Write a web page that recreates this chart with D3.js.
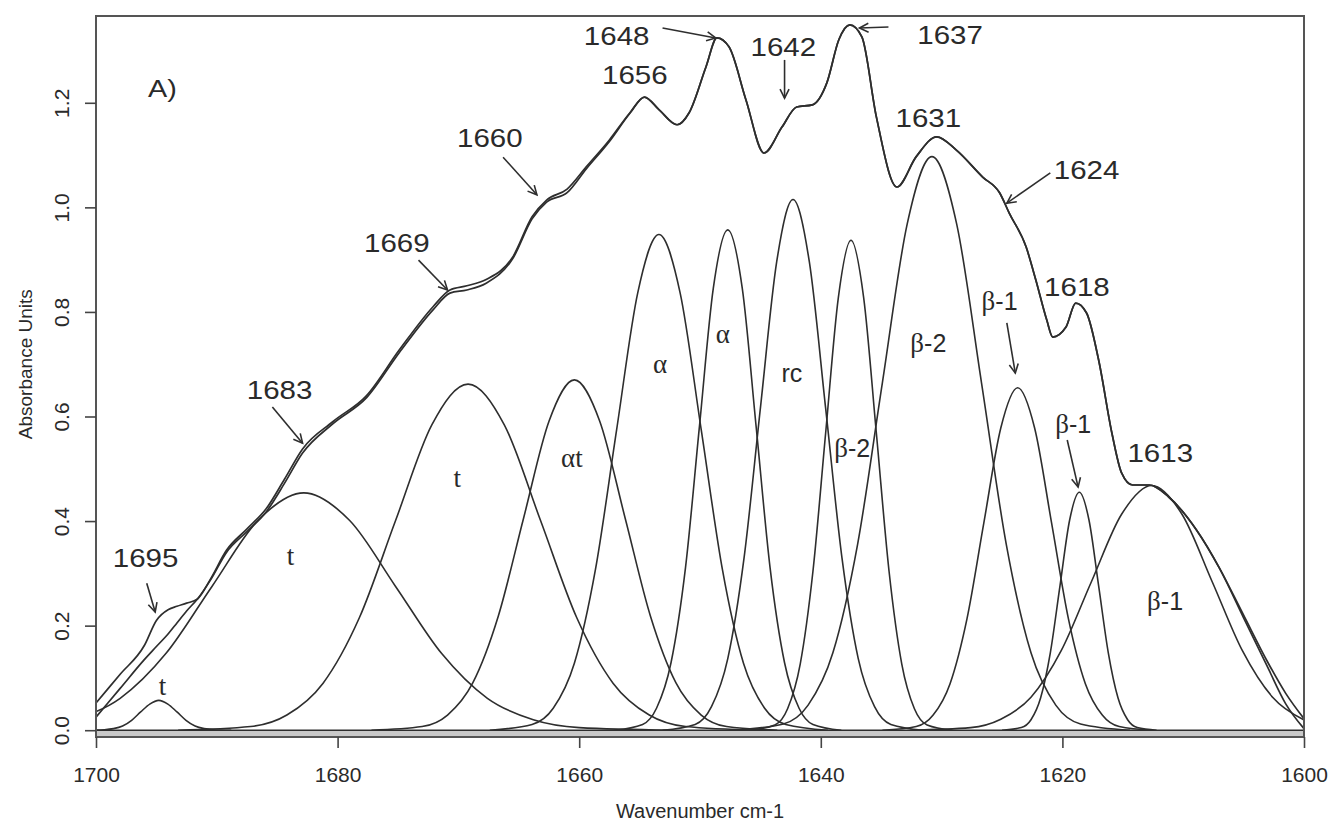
<!DOCTYPE html>
<html>
<head>
<meta charset="utf-8">
<script src="https://cdn.jsdelivr.net/npm/d3@7"></script>
<style>
  body { margin: 0; background: #fff; }
  svg text { fill: #2a2a2a; }
</style>
</head>
<body>
<script>
var specX = [1700, 1698, 1696, 1695, 1694, 1693.3, 1692.5, 1691.6, 1690.5, 1689.2,
  1687.5, 1685.9, 1684.4, 1682.9, 1680.4, 1677.6, 1674.9, 1672.1, 1670.7, 1669.3,
  1667.7, 1665.5, 1663.9, 1662.7, 1661, 1659.4, 1657.5, 1655.8, 1654.6, 1653.4,
  1651.9, 1650.9, 1649.5, 1648.6, 1647.6, 1646.2, 1644.7, 1643.2, 1642, 1640.7,
  1639.5, 1638.5, 1637.6, 1636.6, 1635.4, 1633.7, 1632.1, 1630.4, 1628.8, 1626.6,
  1625.2, 1624.4, 1623, 1622.2, 1621.3, 1620.8, 1619.7, 1618.9, 1618, 1617,
  1615.9, 1615.1, 1614.2, 1612.8, 1611.2, 1608.9, 1607, 1605, 1603, 1601.5, 1600]

var fitY = [0.052, 0.107, 0.162, 0.210, 0.231, 0.237, 0.243, 0.251, 0.290, 0.344,
  0.385, 0.424, 0.480, 0.538, 0.590, 0.640, 0.727, 0.810, 0.842, 0.850,
  0.862, 0.905, 0.982, 1.014, 1.035, 1.078, 1.129, 1.181, 1.211, 1.187,
  1.158, 1.181, 1.269, 1.324, 1.307, 1.206, 1.104, 1.154, 1.192, 1.196,
  1.238, 1.321, 1.349, 1.326, 1.173, 1.039, 1.097, 1.135, 1.110, 1.058,
  1.028, 0.989, 0.924, 0.861, 0.785, 0.752, 0.771, 0.817, 0.798, 0.708,
  0.568, 0.492, 0.469, 0.469, 0.446, 0.383, 0.310, 0.220, 0.130, 0.070, 0.022]

var measY = [0.025, 0.080, 0.135, 0.160, 0.185, 0.205, 0.228, 0.251, 0.288, 0.340,
  0.380, 0.418, 0.472, 0.530, 0.586, 0.636, 0.722, 0.804, 0.836, 0.842,
  0.855, 0.902, 0.978, 1.010, 1.028, 1.074, 1.126, 1.180, 1.211, 1.187,
  1.158, 1.181, 1.269, 1.324, 1.307, 1.206, 1.104, 1.154, 1.192, 1.196,
  1.238, 1.321, 1.349, 1.326, 1.173, 1.039, 1.097, 1.135, 1.110, 1.058,
  1.028, 0.989, 0.924, 0.861, 0.785, 0.752, 0.771, 0.817, 0.798, 0.708,
  0.568, 0.492, 0.469, 0.469, 0.446, 0.383, 0.310, 0.215, 0.120, 0.050, 0.003]

// Fitted component bands: [wavenumber, absorbance]
var t1695 = [[1688.8,0],[1690.3,0.001],[1691.05,0.003],[1691.8,0.008],[1692.55,0.019],[1693.3,0.035],[1694.05,0.050],[1694.8,0.057],[1695.55,0.050],[1696.3,0.035],[1697.05,0.019],[1697.8,0.008],[1698.55,0.003],[1699.3,0.001],[1700.8,0]]
var t1683 = [[1652.4,0],[1660.0,0.005],[1663.8,0.020],[1667.6,0.061],[1671.4,0.147],[1675.2,0.275],[1679.0,0.401],[1682.8,0.454],[1686.6,0.401],[1690.4,0.275],[1694.2,0.147],[1698.0,0.061],[1701.8,0.020],[1705.6,0.005],[1713.2,0]]
var t1669 = [[1645.2,0],[1651.2,0.007],[1654.2,0.029],[1657.2,0.090],[1660.2,0.215],[1663.2,0.401],[1666.2,0.584],[1669.2,0.662],[1672.2,0.584],[1675.2,0.401],[1678.2,0.215],[1681.2,0.090],[1684.2,0.029],[1687.2,0.007],[1693.2,0]]
var at1660 = [[1643.6,0],[1647.8,0.007],[1649.9,0.029],[1652.0,0.091],[1654.1,0.218],[1656.2,0.406],[1658.3,0.591],[1660.4,0.670],[1662.5,0.591],[1664.6,0.406],[1666.7,0.218],[1668.8,0.091],[1670.9,0.029],[1673.0,0.007],[1677.2,0]]
var a1653 = [[1639.4,0],[1642.9,0.011],[1644.65,0.042],[1646.4,0.128],[1648.15,0.308],[1649.9,0.575],[1651.65,0.837],[1653.4,0.948],[1655.15,0.837],[1656.9,0.575],[1658.65,0.308],[1660.4,0.128],[1662.15,0.042],[1663.9,0.011],[1667.4,0]]
var a1648 = [[1638.3,0],[1640.65,0.011],[1641.8,0.042],[1643.0,0.129],[1644.2,0.311],[1645.35,0.580],[1646.5,0.845],[1647.7,0.957],[1648.9,0.845],[1650.05,0.580],[1651.2,0.311],[1652.4,0.129],[1653.6,0.042],[1654.75,0.011],[1657.1,0]]
var rc1642 = [[1631.5,0],[1634.2,0.011],[1635.55,0.045],[1636.9,0.137],[1638.25,0.330],[1639.6,0.616],[1640.95,0.896],[1642.3,1.015],[1643.65,0.896],[1645.0,0.616],[1646.35,0.330],[1647.7,0.137],[1649.05,0.045],[1650.4,0.011],[1653.1,0]]
var b1637 = [[1629.1,0],[1631.2,0.010],[1632.25,0.041],[1633.3,0.127],[1634.35,0.304],[1635.4,0.568],[1636.45,0.827],[1637.5,0.937],[1638.55,0.827],[1639.6,0.568],[1640.65,0.304],[1641.7,0.127],[1642.75,0.041],[1643.8,0.010],[1645.9,0]]
var b1631 = [[1614.4,0],[1618.5,0.012],[1620.55,0.048],[1622.6,0.148],[1624.65,0.356],[1626.7,0.665],[1628.75,0.968],[1630.8,1.097],[1632.85,0.968],[1634.9,0.665],[1636.95,0.356],[1639.0,0.148],[1641.05,0.048],[1643.1,0.012],[1647.2,0]]
var b1624 = [[1612.5,0],[1615.3,0.007],[1616.7,0.029],[1618.1,0.089],[1619.5,0.213],[1620.9,0.397],[1622.3,0.578],[1623.7,0.655],[1625.1,0.578],[1626.5,0.397],[1627.9,0.213],[1629.3,0.089],[1630.7,0.029],[1632.1,0.007],[1634.9,0]]
var b1618 = [[1612.2,0],[1613.8,0.005],[1614.6,0.020],[1615.4,0.062],[1616.2,0.148],[1617.0,0.276],[1617.8,0.402],[1618.6,0.455],[1619.4,0.402],[1620.2,0.276],[1621.0,0.148],[1621.8,0.062],[1622.6,0.020],[1623.4,0.005],[1625.0,0]]
var b1613 = [[1592.6,0],[1597.6,0.005],[1600.1,0.021],[1602.6,0.063],[1605.1,0.152],[1607.6,0.284],[1610.1,0.413],[1612.6,0.468],[1615.1,0.413],[1617.6,0.284],[1620.1,0.152],[1622.6,0.063],[1625.1,0.021],[1627.6,0.005],[1632.6,0]]

var bands = [t1695, t1683, t1669, at1660, a1653, a1648, rc1642, b1637, b1631, b1624, b1618, b1613]

// Tick values
var xTicks = [1700, 1680, 1660, 1640, 1620, 1600]
var yTicks = [0, 0.2, 0.4, 0.6, 0.8, 1.0, 1.2]

// Peak wavenumbers written on the top curve
var peakText = ["1695", "1683", "1669", "1660", "1656", "1648", "1642", "1637", "1631", "1624", "1618", "1613"]
// Band assignments (first part serif greek/t, second part sans)
var bandText = [["t",""], ["t",""], ["t",""], ["\u03B1t",""], ["\u03B1",""], ["\u03B1",""], ["","rc"], ["\u03B2","-2"], ["\u03B2","-2"], ["\u03B2","-1"], ["\u03B2","-1"], ["\u03B2","-1"]]

// Where the labels sit, in data units
var peakPos = [[1695.9,0.329],[1684.8,0.651],[1675.1,0.932],[1667.4,1.133],[1655.4,1.253],[1656.9,1.328],[1643.1,1.307],[1629.3,1.330],[1631.1,1.171],[1618.0,1.072],[1618.8,0.848],[1611.9,0.530]]
var bandPos = [[1694.5,0.086],[1683.9,0.335],[1670.1,0.484],[1660.6,0.522],[1653.3,0.702],[1648.1,0.760],[1642.4,0.685],[1637.4,0.542],[1631.1,0.741],[1625.2,0.823],[1619.1,0.587],[1611.5,0.249]]
// arrows: [from v, from a, to v, to a]
var arrows = [
  [1695.8,0.281,1695.1,0.226],
  [1685.4,0.618,1682.9,0.549],
  [1673.3,0.899,1670.9,0.842],
  [1666.3,1.096,1663.5,1.024],
  [1653.1,1.343,1648.7,1.324],
  [1643.0,1.282,1643.0,1.209],
  [1634.4,1.345,1636.8,1.343],
  [1621.0,1.066,1624.6,1.008],
  [1624.6,0.779,1623.9,0.683],
  [1619.6,0.555,1618.7,0.465]
]

var width = 1339, height = 834
var margin = {top: 16, right: 35, bottom: 97, left: 96}

var svg = d3.select("body").append("svg")
    .attr("width", width)
    .attr("height", height)

var xScale = d3.scaleLinear().domain([1700, 1600]).range([margin.left, width - margin.right])
var yScale = d3.scaleLinear().domain([-0.013, 1.366]).range([height - margin.bottom, margin.top])

var ink = "#2e2e2e"
var sans = "'Liberation Sans', Arial, Helvetica, sans-serif"
var serif = "'Liberation Serif', 'Times New Roman', serif"

svg.append("defs").append("clipPath").attr("id", "plot")
  .append("rect")
    .attr("x", xScale(1700)).attr("y", yScale(1.366))
    .attr("width", xScale(1600) - xScale(1700))
    .attr("height", yScale(-0.013) - yScale(1.366))

svg.select("defs").append("marker")
    .attr("id", "head")
    .attr("viewBox", "-11 -6 13 12")
    .attr("refX", 0).attr("refY", 0)
    .attr("markerWidth", 13).attr("markerHeight", 12)
    .attr("markerUnits", "userSpaceOnUse")
    .attr("orient", "auto")
  .append("path")
    .attr("d", "M-9,-4.5 L0,0 L-9,4.5")
    .attr("fill", "none")
    .attr("stroke", ink)
    .attr("stroke-width", 1.6)

// grey strip between the zero line and the bottom of the box
svg.append("rect")
    .attr("x", xScale(1700)).attr("y", yScale(0))
    .attr("width", xScale(1600) - xScale(1700))
    .attr("height", yScale(-0.013) - yScale(0))
    .attr("fill", "#c9c9c9")

var g = svg.append("g").attr("clip-path", "url(#plot)")

var line = d3.line()
    .x(d => xScale(d[0]))
    .y(d => yScale(d[1]))
    .curve(d3.curveMonotoneX)

// component bands
g.selectAll("path.band")
  .data(bands)
  .join("path")
    .attr("class", "band")
    .attr("d", d => line(d.slice().sort((p, q) => q[0] - p[0])))
    .attr("fill", "none")
    .attr("stroke", ink)
    .attr("stroke-width", 1.6)

// measured spectrum and the fit sum
var envelopes = [specX.map((v, i) => [v, measY[i]]), specX.map((v, i) => [v, fitY[i]])]
g.selectAll("path.env")
  .data(envelopes)
  .join("path")
    .attr("class", "env")
    .attr("d", line)
    .attr("fill", "none")
    .attr("stroke", ink)
    .attr("stroke-width", 1.7)

// zero line
g.append("line")
    .attr("x1", xScale(1700)).attr("x2", xScale(1600))
    .attr("y1", yScale(0)).attr("y2", yScale(0))
    .attr("stroke", ink).attr("stroke-width", 1.6)

// box
svg.append("rect")
    .attr("x", xScale(1700)).attr("y", yScale(1.366))
    .attr("width", xScale(1600) - xScale(1700))
    .attr("height", yScale(-0.013) - yScale(1.366))
    .attr("fill", "none")
    .attr("stroke", "#555")
    .attr("stroke-width", 2)

// axes
var xAxis = svg.append("g")
    .attr("transform", "translate(0," + yScale(-0.013) + ")")
    .call(d3.axisBottom(xScale).tickValues(xTicks).tickSize(11).tickPadding(19).tickFormat(d3.format("d")))
xAxis.select(".domain").remove()
xAxis.selectAll("line").attr("stroke", "#444").attr("stroke-width", 1.6)
xAxis.selectAll("text").attr("font-family", sans).attr("font-size", 21).attr("fill", "#333")

var yAxis = svg.append("g")
    .attr("transform", "translate(" + xScale(1700) + ",0)")
    .call(d3.axisLeft(yScale).tickValues(yTicks).tickSize(11).tickFormat(d3.format(".1f")))
yAxis.select(".domain").remove()
yAxis.selectAll("line").attr("stroke", "#444").attr("stroke-width", 1.6)
yAxis.selectAll("text")
    .attr("x", 0).attr("dy", 0)
    .attr("text-anchor", "middle")
    .attr("transform", "translate(-27,0) rotate(-90)")
    .attr("font-family", sans).attr("font-size", 21).attr("fill", "#333")

svg.append("text")
    .attr("transform", "translate(" + (xScale(1650)) + "," + (height - 16) + ")")
    .attr("text-anchor", "middle")
    .attr("font-family", sans).attr("font-size", 20)
    .text("Wavenumber cm-1")

svg.append("text")
    .attr("transform", "translate(32," + yScale(0.7) + ") rotate(-90)")
    .attr("text-anchor", "middle")
    .attr("font-family", sans).attr("font-size", 19)
    .text("Absorbance Units")

// panel letter
svg.append("text")
    .attr("transform", "translate(" + xScale(1694.5) + "," + yScale(1.228) + ") scale(1.2,1)")
    .attr("text-anchor", "middle").attr("dy", "0.36em")
    .attr("font-family", sans).attr("font-size", 24)
    .text("A)")

// peak labels
svg.selectAll("text.peak")
  .data(peakText)
  .join("text")
    .attr("class", "peak")
    .attr("transform", (d, i) => "translate(" + xScale(peakPos[i][0]) + "," + yScale(peakPos[i][1]) + ") scale(1.18,1)")
    .attr("text-anchor", "middle").attr("dy", "0.36em")
    .attr("font-family", sans).attr("font-size", 25)
    .text(d => d)

// band labels
var bl = svg.selectAll("text.bandlab")
  .data(bandText)
  .join("text")
    .attr("class", "bandlab")
    .attr("x", (d, i) => xScale(bandPos[i][0]))
    .attr("y", (d, i) => yScale(bandPos[i][1]))
    .attr("text-anchor", "middle").attr("dy", "0.36em")
    .attr("font-size", 27)
bl.append("tspan").attr("font-family", serif).text(d => d[0])
bl.append("tspan").attr("font-family", sans).attr("font-size", 25).text(d => d[1])

// arrows
svg.selectAll("line.arrow")
  .data(arrows)
  .join("line")
    .attr("class", "arrow")
    .attr("x1", d => xScale(d[0])).attr("y1", d => yScale(d[1]))
    .attr("x2", d => xScale(d[2])).attr("y2", d => yScale(d[3]))
    .attr("stroke", ink).attr("stroke-width", 1.6)
    .attr("marker-end", "url(#head)")
</script>
</body>
</html>
